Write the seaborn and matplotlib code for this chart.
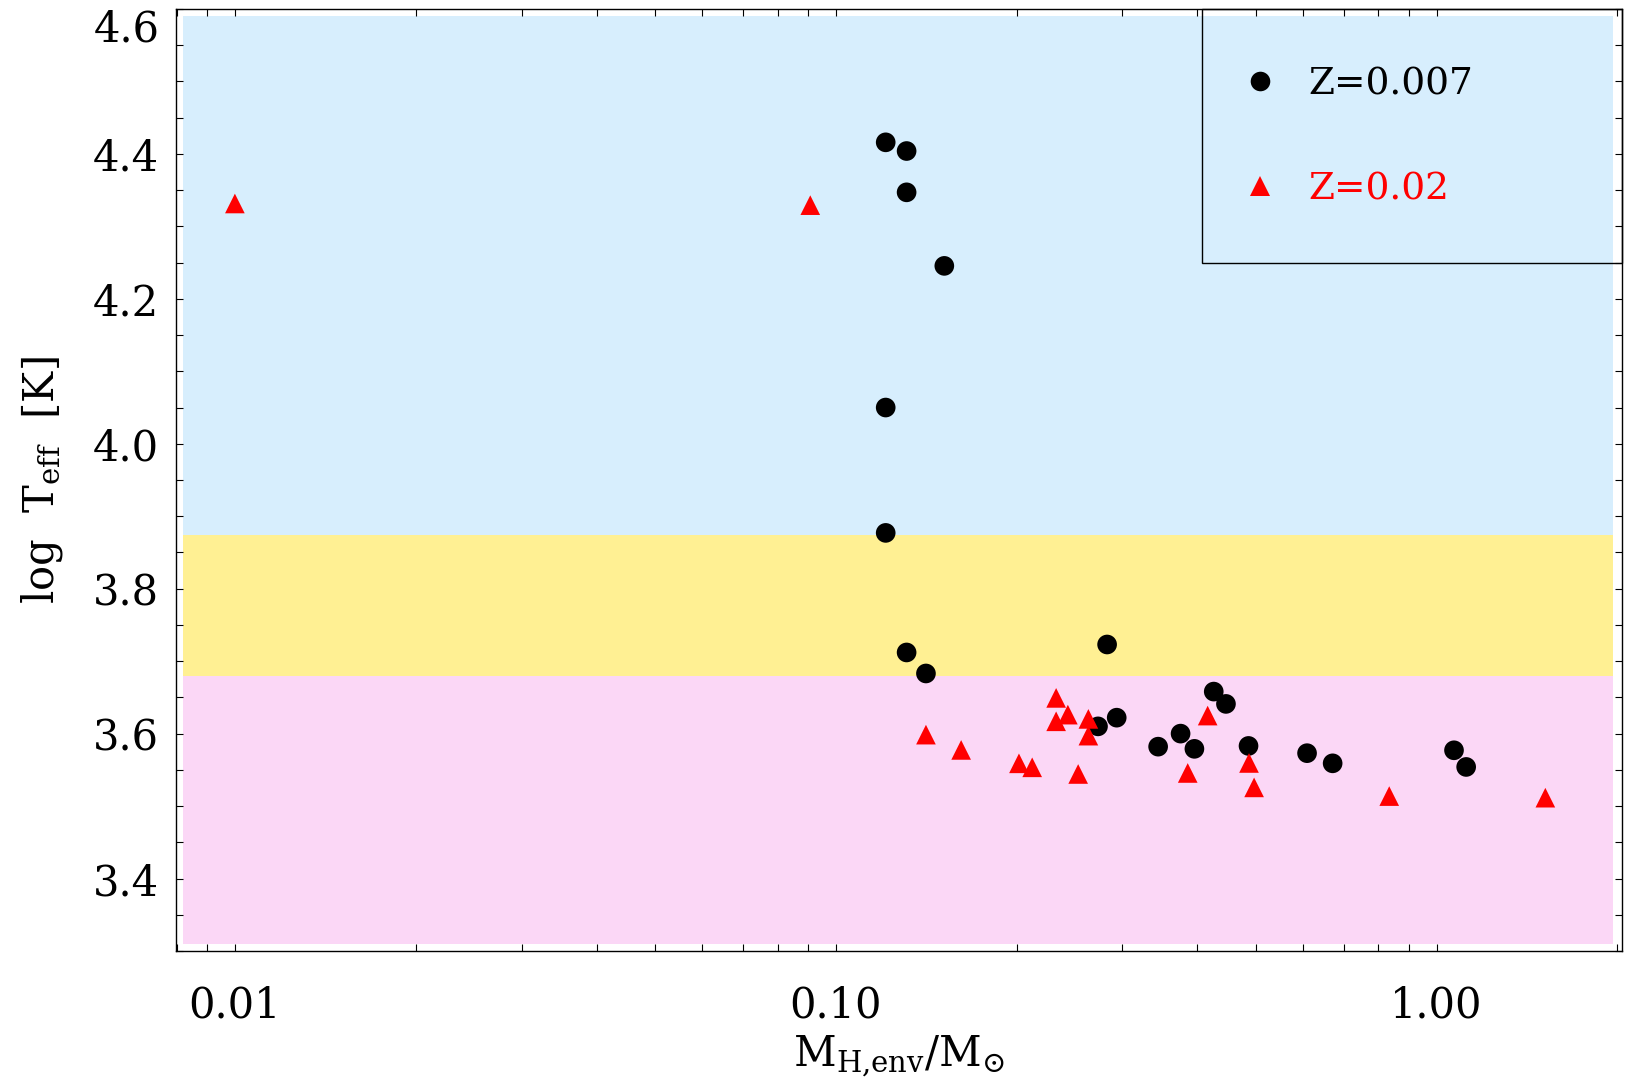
import numpy as np
import pandas as pd
import matplotlib
matplotlib.use("Agg")
import matplotlib.pyplot as plt
from matplotlib.lines import Line2D
from matplotlib.patches import Rectangle
from matplotlib.ticker import MultipleLocator, FixedLocator, FixedFormatter, LogLocator, NullFormatter
import seaborn as sns

# ---------------- data ----------------
z007_mass = [0.1211, 0.1312, 0.1312, 0.1516, 0.1211, 0.1211, 0.1312, 0.1413,
             0.2829, 0.2732, 0.2935, 0.3440, 0.3749, 0.3953, 0.4257, 0.4461,
             0.4864, 0.6087, 0.6714, 1.069, 1.120]
z007_logteff = [4.416, 4.404, 4.347, 4.2455, 4.050, 3.877, 3.712, 3.683,
                3.723, 3.610, 3.622, 3.582, 3.600, 3.579, 3.658, 3.641,
                3.583, 3.573, 3.559, 3.577, 3.554]

z02_mass = [0.0100, 0.0907, 0.1413, 0.1617, 0.2018, 0.2123, 0.2327, 0.2434,
            0.2327, 0.2633, 0.2633, 0.2532, 0.4159, 0.3853, 0.4873, 0.4969,
            0.834, 1.517]
z02_logteff = [4.3316, 4.3293, 3.5986, 3.5775, 3.559, 3.5535, 3.6493, 3.6262,
               3.617, 3.6203, 3.5972, 3.5443, 3.6249, 3.5457, 3.5595, 3.5258,
               3.5138, 3.5116]

series_labels = ["Z=0.007", "Z=0.02"]
series_colors = ["black", "#ff0000"]
series_markers = ["o", "^"]

band_edges = [3.3097, 3.680, 3.874, 4.5903]   # pink / yellow / blue
band_colors = ["#fbd7f6", "#fff093", "#d7eefd"]

xtick_vals = [0.01, 0.1, 1.0]
xtick_labels = ["0.01", "0.10", "1.00"]
ytick_vals = [3.4, 3.6, 3.8, 4.0, 4.2, 4.4, 4.6]
ytick_labels = ["3.4", "3.6", "3.8", "4.0", "4.2", "4.4", "4.6"]

df = pd.DataFrame({
    "mass": z007_mass + z02_mass,
    "logteff": z007_logteff + z02_logteff,
    "Z": [series_labels[0]] * len(z007_mass) + [series_labels[1]] * len(z02_mass),
})

# ---------------- style ----------------
sns.set_style("ticks")
plt.rcParams["font.family"] = ["DejaVu Serif", "DejaVu Sans"]
plt.rcParams["mathtext.fontset"] = "dejavuserif"
for k in ["text.color", "axes.labelcolor", "xtick.color", "ytick.color",
          "xtick.labelcolor", "ytick.labelcolor", "axes.edgecolor"]:
    plt.rcParams[k] = "black"

W, H = 1627, 1088
fig = plt.figure(figsize=(W / 100, H / 100), dpi=100)
ax_l, ax_r, ax_t, ax_b = 176, 1622, 9, 951
ax = fig.add_axes([ax_l / W, (H - ax_b) / H, (ax_r - ax_l) / W, (ax_b - ax_t) / H])

# colour bands
bx0 = (183 - ax_l) / (ax_r - ax_l)
bx1 = (1613 - ax_l) / (ax_r - ax_l)
for lo, hi, c in zip(band_edges[:-1], band_edges[1:], band_colors):
    ax.axhspan(lo, hi, xmin=bx0, xmax=bx1, color=c, lw=0, zorder=0)

sns.scatterplot(data=df, x="mass", y="logteff", hue="Z", style="Z",
                palette=dict(zip(series_labels, series_colors)),
                markers=dict(zip(series_labels, series_markers)),
                s=200, linewidth=0, legend=False, ax=ax, zorder=3)

ax.set_xscale("log")
ax.set_xlim(0.00798, 2.035)
ax.set_ylim(3.3, 4.6)

ax.xaxis.set_major_locator(FixedLocator(xtick_vals))
ax.xaxis.set_major_formatter(FixedFormatter(xtick_labels))
ax.xaxis.set_minor_locator(LogLocator(base=10, subs=np.arange(2, 10)))
ax.xaxis.set_minor_formatter(NullFormatter())
ax.yaxis.set_major_locator(FixedLocator(ytick_vals))
ax.yaxis.set_major_formatter(FixedFormatter(ytick_labels))
ax.yaxis.set_minor_locator(MultipleLocator(0.05))

ax.tick_params(which="both", direction="in", top=True, right=True,
               length=5, width=0.8, color="black", labelcolor="black")
ax.tick_params(axis="y", which="major", labelsize=30, pad=12)
ax.tick_params(axis="x", which="major", labelsize=30, pad=24)
for sp in ax.spines.values():
    sp.set_linewidth(1.0)
    sp.set_color("black")

# top y label sits just below the axis top (as in original)
ax.yaxis.get_major_ticks()[-1].label1.set_verticalalignment("top")

ax.set_xlabel(r"$\mathrm{M_{H{,}env}/M_{\odot}}$", fontsize=30, color="black")
ax.set_ylabel(r"$\mathrm{log\ \ T_{eff}\ \ [K]}$", fontsize=30, color="black")
ax.xaxis.set_label_coords(0.5, -0.088)
ax.yaxis.set_label_coords(-0.077, 0.5)

# legend box
lx0 = (1202 - ax_l) / (ax_r - ax_l)
ly0 = (ax_b - 263) / (ax_b - ax_t)
ax.add_patch(Rectangle((lx0, ly0), 1.0 - lx0, 1.0 - ly0, transform=ax.transAxes,
                       facecolor="none", edgecolor="black", lw=1.0, zorder=4,
                       clip_on=False))

handles = [Line2D([], [], ls="none", marker=m, color=c, markersize=14.1, mew=0)
           for m, c in zip(series_markers, series_colors)]
fs = 27
hl = 1.0
hx_left = 1260 - hl * fs * 100 / 72 / 2
leg = ax.legend(handles, series_labels, loc="center left",
                bbox_to_anchor=((hx_left - ax_l) / (ax_r - ax_l), (ax_b - 136.7) / (ax_b - ax_t)),
                frameon=False, fontsize=fs, handlelength=hl, handletextpad=0.78,
                labelspacing=1.85, borderpad=0, borderaxespad=0)
for t, c in zip(leg.get_texts(), series_colors):
    t.set_color(c)

fig.savefig("out.png", dpi=100)
